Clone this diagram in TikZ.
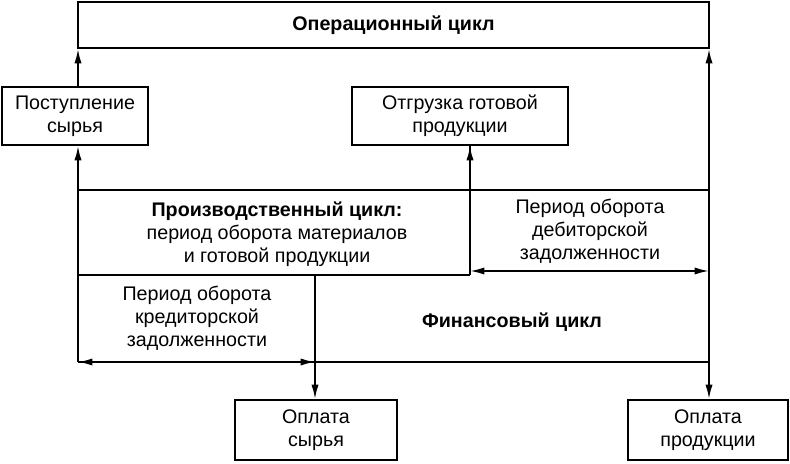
\documentclass[tikz,border=0pt]{standalone}
\usepackage{fontspec}
\setmainfont{Liberation Sans}
\usetikzlibrary{positioning, arrows.meta}
\tikzset{
	block/.style={draw, rectangle, line width=1.3pt, inner sep=2pt, align=center, fill=white},
	label/.style={align=center, inner sep=0pt},
	flow/.style={line width=1.3pt, -{Latex[length=3.6mm, width=1.8mm]}},
	period/.style={line width=1.3pt, {Latex[length=3.6mm, width=1.8mm]}-{Latex[length=3.6mm, width=1.8mm]}},
}
\begin{document}
\begin{tikzpicture}[x=0.025cm, y=-0.025cm, font=\fontsize{14}{16.5}\selectfont]
				\useasboundingbox (0,0) rectangle (790,464);
				
				\node (op) [block, minimum width=15.775cm, minimum height=1.15cm] at (393.5,25) {\textbf{Операционный цикл}};
				\node (raw) [block, minimum width=3.65cm, minimum height=1.45cm] at (75,116) {Поступление\\сырья};
				\node (ship) [block, minimum width=5.4cm, minimum height=1.45cm] at (460,116) {Отгрузка готовой\\продукции};
				\node (payraw) [block, minimum width=4.05cm, minimum height=1.5cm] at (316,430) {Оплата\\сырья};
				\node (payprod) [block, minimum width=4cm, minimum height=1.5cm] at (708,430) {Оплата\\продукции};
				
				% corner points of the cycle grid
				\coordinate (l1) at (78,190);
				\coordinate (l2) at (78,275);
				\coordinate (l3) at (78,362);
				\coordinate (m1) at (470,190);
				\coordinate (m2) at (470,275);
				\coordinate (k2) at (315,275);
				\coordinate (k3) at (315,362);
				\coordinate (r1) at (709,190);
				\coordinate (r3) at (709,362);
				
				\node (prod) [label] at (277,234) {\textbf{Производственный цикл:}\\период оборота материалов\\и готовой продукции};
				\node (deb) [label] at (590,231) {Период оборота\\дебиторской\\задолженности};
				\node (cred) [label] at (197,318) {Период оборота\\кредиторской\\задолженности};
				\node (fin) [label] at (512,322) {\textbf{Финансовый цикл}};
				
				\begin{scope}[line width=1.3pt]
					\draw (l1) -- (r1);
					\draw (l2) -- (m2);
					\draw (l3) -- (r3);
					\draw (l1) -- (l3);
					\draw (ship.south -| m1) -- (m2);
				\end{scope}
				\begin{scope}[flow]
					\draw (raw.north -| l1) -- (op.south -| l1);
					\draw (l1) -- (raw.south -| l1);
					\draw (m1) -- (ship.south -| m1);
					\draw (r3) -- (op.south -| r3);
					\draw (r3) -- (payprod.north -| r3);
					\draw (k2) -- (payraw.north -| k2);
				\end{scope}
				\draw [period] ([yshift=0.1cm]m2) -- ([yshift=0.1cm]m2 -| r1);
				\draw [period] (l3) -- (k3);
				
			\end{tikzpicture}
\end{document}
